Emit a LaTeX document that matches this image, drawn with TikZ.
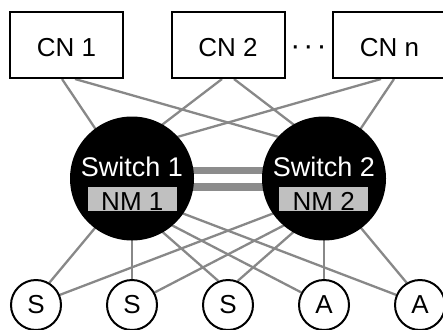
\documentclass[tikz,border=0pt]{standalone}
\usepackage{fontspec}
\setmainfont{Liberation Sans}
\usetikzlibrary{calc}
\pgfdeclarelayer{bg}
\pgfsetlayers{bg,main}
\definecolor{linegray}{HTML}{888888}
\definecolor{bargray}{HTML}{8C8C8C}
\definecolor{nmgray}{HTML}{C0C0C0}
\begin{document}
\begin{tikzpicture}[x=1pt,y=-1pt,
  cnbox/.style={draw=black,line width=2pt,fill=white,minimum width=113pt,minimum height=66pt,inner sep=0pt,font=\fontsize{26}{30}\selectfont,text height=23.5pt,text depth=0pt},
  dev/.style={circle,draw=black,line width=2pt,fill=white,minimum size=50pt,inner sep=0pt,font=\fontsize{26}{30}\selectfont},
  switchnode/.style={circle,fill=black,minimum size=124pt,inner sep=0pt},
  swlabel/.style={text=white,font=\fontsize{27}{30}\selectfont,anchor=base,inner sep=0pt},
  nmbox/.style={fill=nmgray,minimum width=88.5pt,minimum height=24pt,inner sep=0pt,font=\fontsize{26}{30}\selectfont,text height=22pt,text depth=0pt},
  dotlabel/.style={anchor=base,inner sep=0pt,font=\fontsize{30}{34}\selectfont},
  link/.style={draw=linegray,line width=2.3pt},
  bar/.style={draw=bargray,line width=7.5pt}]
\useasboundingbox (0,0) rectangle (443,329);
\clip (0,0) rectangle (443,329);

% compute nodes
\node[cnbox] (cn1) at (66.5,45) {CN 1};
\node[cnbox] (cn2) at (228,45) {CN 2};
\node[cnbox] (cnn) at (389.5,45) {CN n};
\node[dotlabel] (dots) at (308.5,55) {·\kern3.2pt·\kern3.2pt·};

% switches
\node[switchnode] (sw1) at (132,178.5) {};
\node[switchnode] (sw2) at (324,178.5) {};
\node[swlabel] (sw1t) at (132,176) {Switch 1};
\node[swlabel] (sw2t) at (324,176) {Switch 2};
\node[nmbox] (nm1) at (132.3,199) {NM 1};
\node[nmbox] (nm2) at (323.7,199) {NM 2};

% devices
\node[dev] (s1) at (36,305) {S};
\node[dev] (s2) at (132,305) {S};
\node[dev] (s3) at (228,305) {S};
\node[dev] (a1) at (324,305) {A};
\node[dev] (a2) at (420,305) {A};

% inner end points
\coordinate (t11) at (123,170);
\coordinate (t12) at (300,143);
\coordinate (t21) at (116,160);
\coordinate (t22) at (340,160);
\coordinate (tn1) at (156,143);
\coordinate (tn2) at (333,170);
\coordinate (b1s1) at (110,210);
\coordinate (b1s3) at (150,221);
\coordinate (b1a1) at (156,217);
\coordinate (b1a2) at (166,207);
\coordinate (b2a2) at (346,210);
\coordinate (b2s3) at (306,221);
\coordinate (b2s2) at (300,217);
\coordinate (b2s1) at (290,207);

\begin{pgfonlayer}{bg}
\draw[bar] ($(sw1.center)+(0,-8.25)$) -- ($(sw2.center)+(0,-8.25)$);
\draw[bar] ($(sw1.center)+(0,8.25)$) -- ($(sw2.center)+(0,8.25)$);

\draw[link] ($(cn1.south)+(-4.5,0)$) -- (t11);
\draw[link] ($(cn1.south)+(8.5,0)$) -- (t12);
\draw[link] ($(cn2.south)+(-6,0)$) -- (t21);
\draw[link] ($(cn2.south)+(6,0)$) -- (t22);
\draw[link] ($(cnn.south)+(-8.5,0)$) -- (tn1);
\draw[link] ($(cnn.south)+(4.5,0)$) -- (tn2);

\draw[link] (s1.59) -- (b1s1);
\draw[link] (s2.north) -- (sw1.center);
\draw[link] (s3.112) -- (b1s3);
\draw[link] (a1.151) -- (b1a1);
\draw[link] (a2.157) -- (b1a2);

\draw[link] (s1.23) -- (b2s1);
\draw[link] (s2.29) -- (b2s2);
\draw[link] (s3.68) -- (b2s3);
\draw[link] (a1.north) -- (sw2.center);
\draw[link] (a2.121) -- (b2a2);
\end{pgfonlayer}
\end{tikzpicture}
\end{document}
